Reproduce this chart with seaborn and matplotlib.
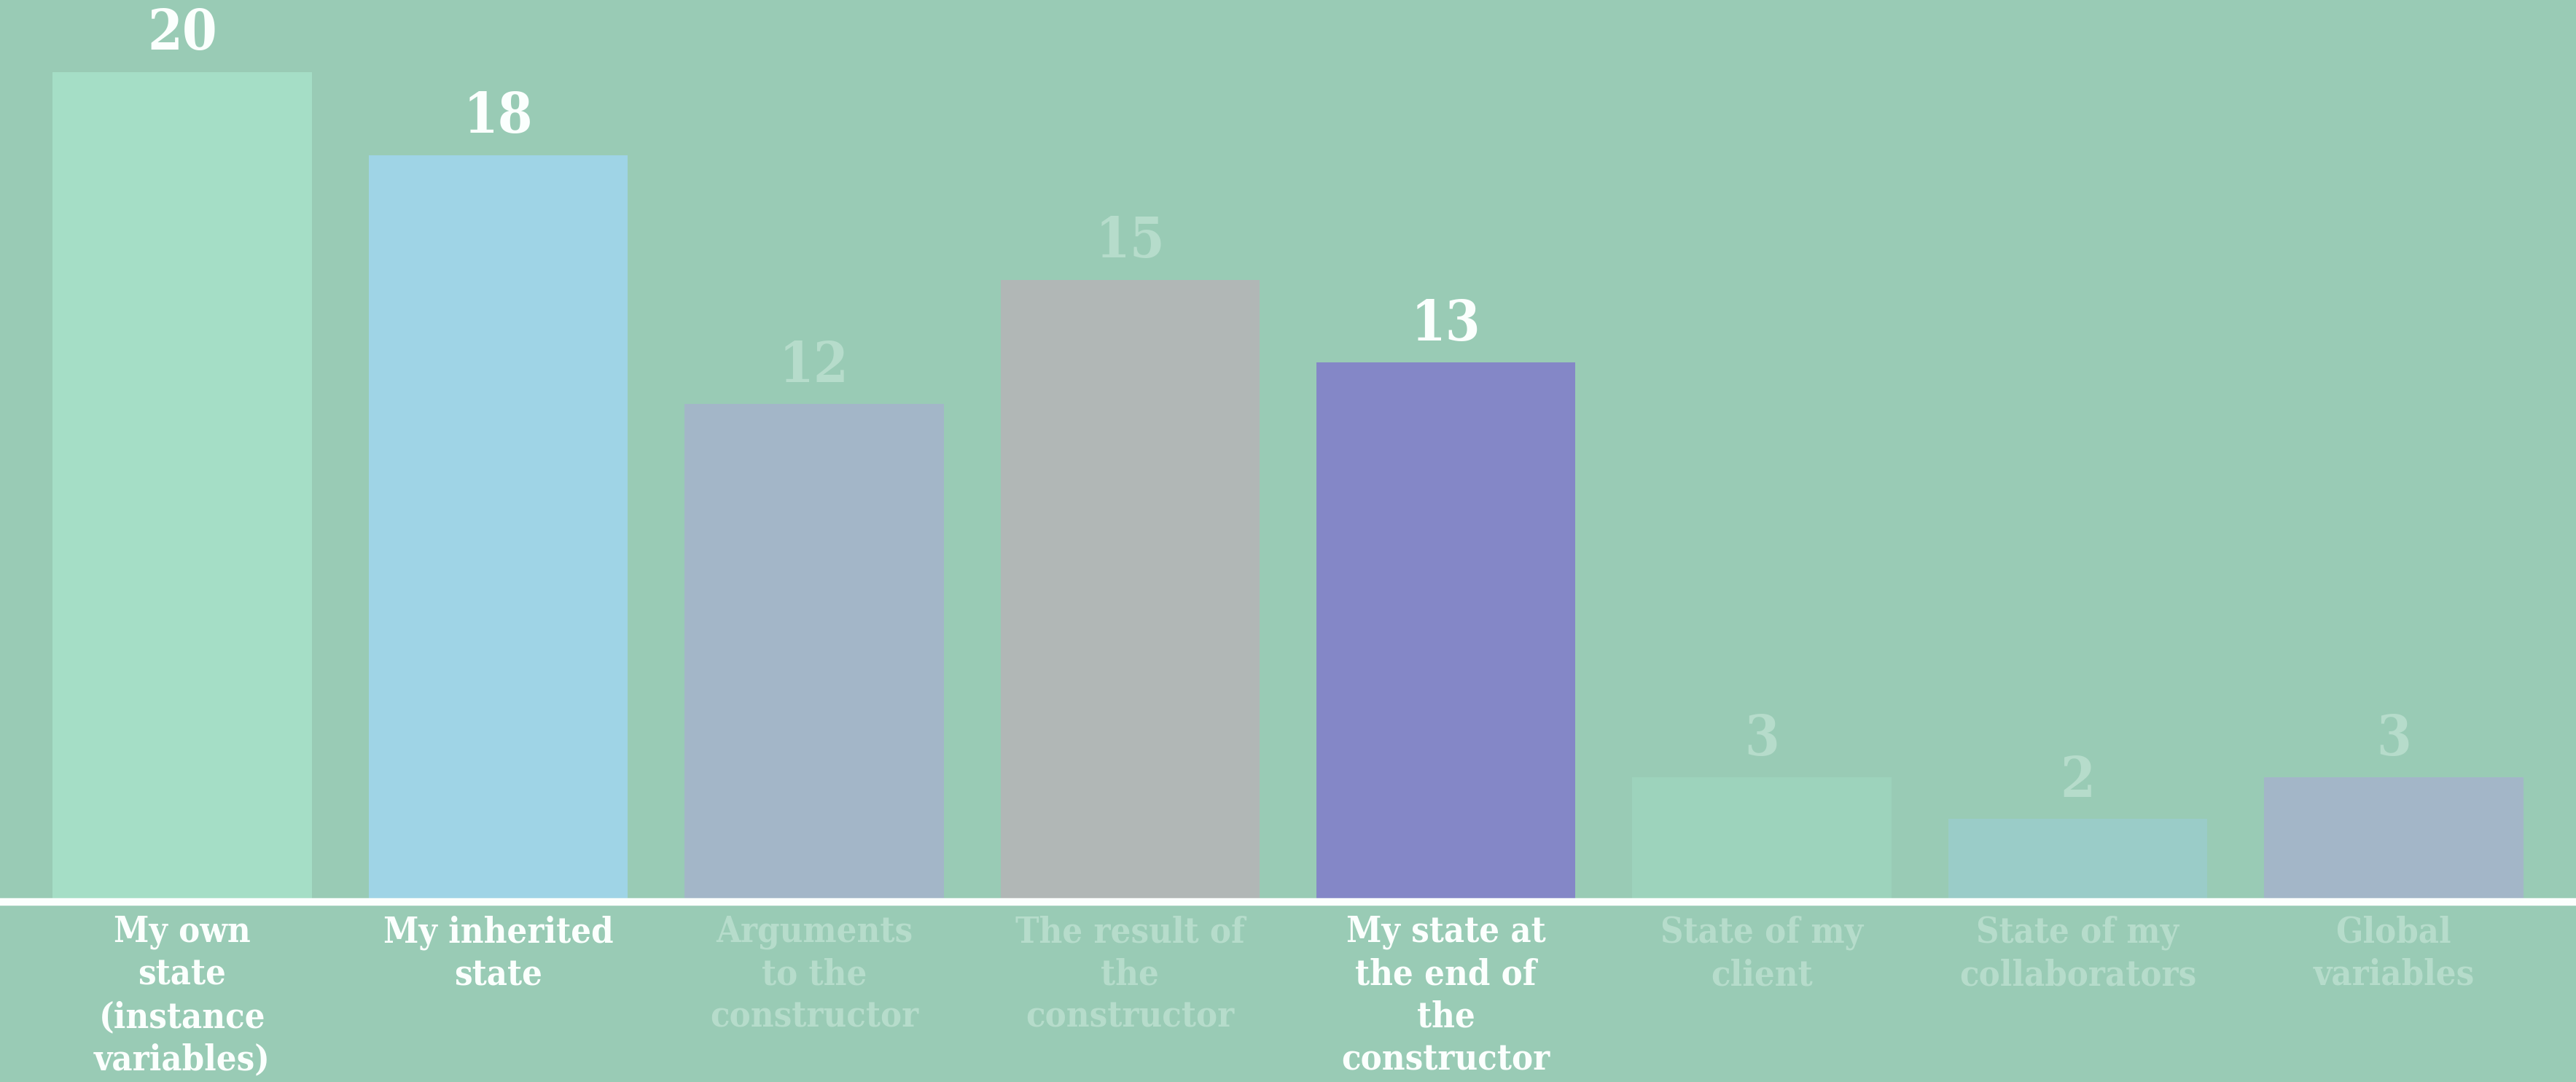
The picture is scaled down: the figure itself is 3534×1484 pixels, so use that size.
import matplotlib
matplotlib.use("Agg")
import matplotlib.pyplot as plt
import seaborn as sns
import pandas as pd

categories = ["My own state (instance variables)", "My inherited state",
              "Arguments to the constructor", "The result of the constructor",
              "My state at the end of the constructor", "State of my client",
              "State of my collaborators", "Global variables"]
tick_labels = ["My own\nstate\n(instance\nvariables)", "My inherited\nstate",
               "Arguments\nto the\nconstructor", "The result of\nthe\nconstructor",
               "My state at\nthe end of\nthe\nconstructor", "State of my\nclient",
               "State of my\ncollaborators", "Global\nvariables"]
values = [20, 18, 12, 15, 13, 3, 2, 3]
highlighted = [True, True, False, False, True, False, False, False]
bar_colors = ["#a5dec6", "#9fd4e6", "#a3b6c8", "#b1b7b6", "#8487c7",
              "#9dd3bc", "#9accc8", "#a3b6c8"]

BG = "#99cbb5"
WHITE = "#fbfffd"
FADED = "#b6dccb"

sns.set_theme(style="white")
plt.rcParams["font.family"] = ["DejaVu Serif", "DejaVu Sans"]

df = pd.DataFrame({"category": categories, "value": values})

fig = plt.figure(figsize=(35.34, 14.84), dpi=100, facecolor=BG)
ax = fig.add_axes([0, (1484 - 1237) / 1484, 1, 1237 / 1484])
ax.set_facecolor(BG)

sns.barplot(data=df, x="category", y="value", hue="category",
            palette=bar_colors, width=0.82, saturation=1, legend=False,
            linewidth=0, edgecolor="none", ax=ax)

ax.set_xlim(-0.577, len(values) - 1 + 0.577)
ax.set_ylim(0, 21.74)
for s in ax.spines.values():
    s.set_visible(False)
ax.axhline(0, color=WHITE, lw=7.5, zorder=5, clip_on=False)

ax.set_yticks([])
ax.set_xlabel("")
ax.set_ylabel("")
ax.set_xticks(range(len(values)))
ax.set_xticklabels(tick_labels, fontsize=35, fontweight="bold",
                   linespacing=1.31, fontstretch="condensed")
ax.tick_params(axis="x", length=0, pad=13)
for lbl, hl in zip(ax.get_xticklabels(), highlighted):
    lbl.set_color(WHITE if hl else FADED)

for i, (v, hl) in enumerate(zip(values, highlighted)):
    ax.annotate(str(v), xy=(i, v), xytext=(0, 22), textcoords="offset points",
                ha="center", va="baseline", fontsize=55, fontweight="bold",
                color=WHITE if hl else FADED, fontstretch="condensed")

fig.savefig("out.png", dpi=100, facecolor=BG)
